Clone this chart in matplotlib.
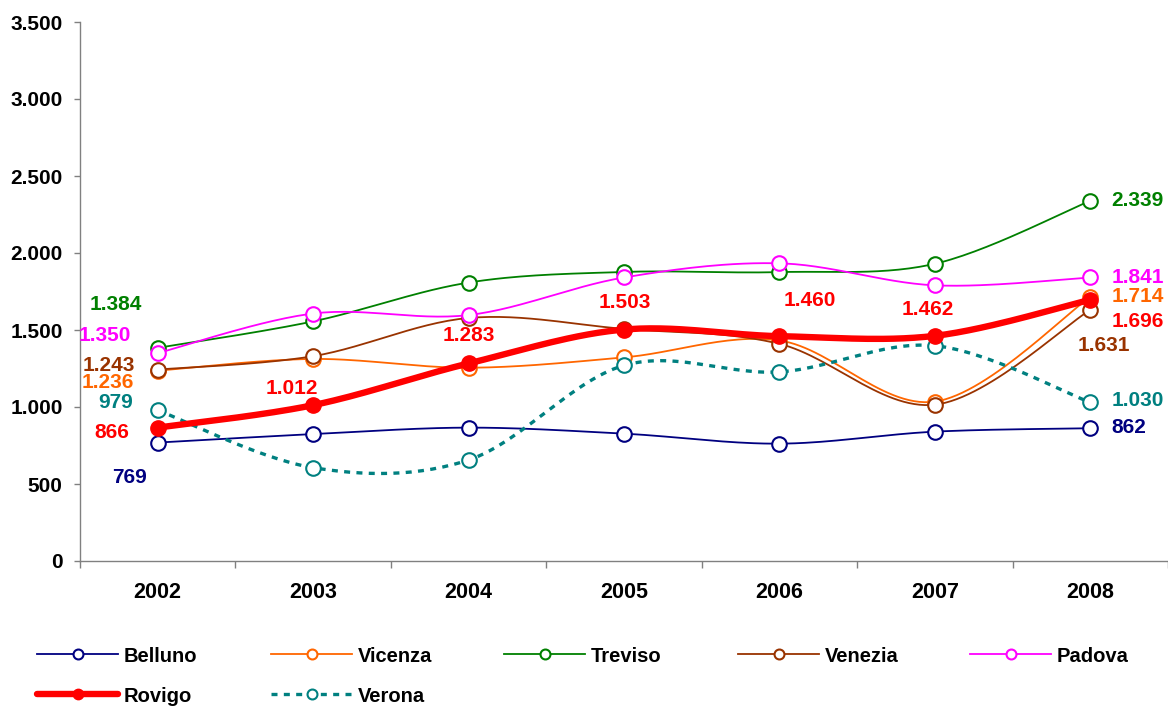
import numpy as np
import matplotlib
matplotlib.use("Agg")
import matplotlib.pyplot as plt
from matplotlib.ticker import FuncFormatter, FixedLocator

plt.rcParams['font.family'] = ['Liberation Sans', 'DejaVu Sans']
plt.rcParams['font.weight'] = 'bold'

years = ['2002', '2003', '2004', '2005', '2006', '2007', '2008']

belluno = [769, 824, 866, 827, 762, 840, 862]
vicenza = [1236, 1312, 1255, 1322, 1432, 1035, 1714]
treviso = [1384, 1556, 1808, 1877, 1876, 1930, 2339]
venezia = [1243, 1330, 1578, 1507, 1410, 1015, 1631]
padova = [1350, 1607, 1597, 1841, 1933, 1790, 1841]
rovigo = [866, 1012, 1283, 1503, 1460, 1462, 1696]
verona = [979, 606, 656, 1270, 1228, 1398, 1030]

series_names = ['Belluno', 'Vicenza', 'Treviso', 'Venezia', 'Padova', 'Rovigo', 'Verona']
series_values = [belluno, vicenza, treviso, venezia, padova, rovigo, verona]
series_colors = ['#000080', '#FF6600', '#008000', '#993300', '#FF00FF', '#FF0000', '#008080']

y_ticks = [0, 500, 1000, 1500, 2000, 2500, 3000, 3500]


def fmt_it(v):
    return f"{int(round(v)):,}".replace(',', '.')


def smooth(xs, ys, n=30):
    """Catmull-Rom style Bezier smoothing through every point."""
    pts = np.column_stack([np.asarray(xs, float), np.asarray(ys, float)])
    m = len(pts)
    out = []
    t = np.linspace(0, 1, n, endpoint=False)[:, None]
    for i in range(m - 1):
        p0 = pts[i - 1] if i > 0 else pts[i]
        p1 = pts[i]
        p2 = pts[i + 1]
        p3 = pts[i + 2] if i + 2 < m else pts[i + 1]
        c1 = p1 + (p2 - p0) / 6.0
        c2 = p2 - (p3 - p1) / 6.0
        seg = ((1 - t) ** 3) * p1 + 3 * ((1 - t) ** 2) * t * c1 \
            + 3 * (1 - t) * t ** 2 * c2 + t ** 3 * p2
        out.append(seg)
    out.append(pts[-1][None, :])
    curve = np.vstack(out)
    marks = [i * n for i in range(m)]
    return curve[:, 0], curve[:, 1], marks


fig = plt.figure(figsize=(11.68, 7.06), dpi=100)
W, H = 1168, 706
ax = fig.add_axes([80 / W, 145 / H, (1168 - 80) / W, (561 - 22) / H])

x = np.arange(len(years))
handles = {}
for name, vals, col in zip(series_names, series_values, series_colors):
    sx, sy, marks = smooth(x, vals)
    if name == 'Rovigo':
        ln, = ax.plot(sx, sy, color=col, lw=4.6, marker='o', markevery=marks,
                      markersize=11, markerfacecolor=col, markeredgecolor=col,
                      label=name, zorder=5, solid_capstyle='round')
    elif name == 'Verona':
        ln, = ax.plot(sx, sy, color=col, lw=2.4, linestyle=(0, (1.8, 1.9)),
                      marker='o', markevery=marks, markersize=10.5,
                      markerfacecolor='white', markeredgecolor=col, markeredgewidth=1.5,
                      label=name, zorder=4)
    else:
        ln, = ax.plot(sx, sy, color=col, lw=1.3, marker='o', markevery=marks,
                      markersize=10.5, markerfacecolor='white', markeredgecolor=col,
                      markeredgewidth=1.5, label=name, zorder=3)
    handles[name] = ln

ax.set_xlim(-0.5, len(years) - 0.5)
ax.set_ylim(0, 3500)

for s in ['top', 'right']:
    ax.spines[s].set_visible(False)
for s in ['left', 'bottom']:
    ax.spines[s].set_color('#808080')
    ax.spines[s].set_linewidth(1.0)

ax.set_yticks(y_ticks)
ax.yaxis.set_major_formatter(FuncFormatter(lambda v, p: fmt_it(v)))
ax.tick_params(axis='y', direction='out', length=4.5, width=1, color='#808080',
               pad=8, labelsize=15)

ax.set_xticks(x)
ax.set_xticklabels(years)
ax.xaxis.set_minor_locator(FixedLocator(np.arange(-0.5, len(years), 1.0)))
ax.tick_params(axis='x', which='major', length=0, pad=15, labelsize=15.5)
ax.tick_params(axis='x', which='minor', direction='out', length=5, width=1, color='#808080')
for lab in ax.get_xticklabels() + ax.get_yticklabels():
    lab.set_fontweight('bold')

# data labels (offsets in pixels from the point)
label_offsets = {
    'Belluno': {0: (-28, -35, 'center'), 6: (21, 1, 'left')},
    'Vicenza': {0: (-50, -12, 'center'), 6: (21, 1, 'left')},
    'Treviso': {0: (-42, 43, 'center'), 6: (21, 0, 'left')},
    'Venezia': {0: (-49, 4, 'center'), 6: (-13, -36, 'left')},
    'Padova': {0: (-53, 18, 'center'), 6: (21, 0, 'left')},
    'Rovigo': {0: (-46, -5, 'center'), 1: (-21, 17, 'center'), 2: (0, 28, 'center'),
               3: (1, 27, 'center'), 4: (30, 36, 'center'), 5: (-7, 26, 'center'),
               6: (21, -22, 'left')},
    'Verona': {0: (-42, 8, 'center'), 6: (21, 2, 'left')},
}
for name, vals, col in zip(series_names, series_values, series_colors):
    for i, (dx, dy, ha) in label_offsets[name].items():
        ax.annotate(fmt_it(vals[i]), xy=(x[i], vals[i]), xytext=(dx, dy),
                    textcoords='offset pixels', ha=ha, va='center',
                    color=col, fontsize=15, fontweight='bold', zorder=10,
                    annotation_clip=False)

# legend: one entry per slot, laid out in two rows
legend_slots = {
    'Belluno': (37, 656), 'Vicenza': (271, 656), 'Treviso': (504, 656),
    'Venezia': (738, 656), 'Padova': (970, 656),
    'Rovigo': (37, 696), 'Verona': (271, 696),
}
leg_fs = 14.5
fs_px = leg_fs * 100 / 72
for name in series_names:
    lx, ly = legend_slots[name]
    fig.legend([handles[name]], [name], loc='center left',
               bbox_to_anchor=(lx / W, 1 - ly / H), frameon=False,
               handlelength=81 / fs_px, handletextpad=6 / fs_px,
               borderpad=0, borderaxespad=0, markerscale=0.68,
               prop={'weight': 'bold', 'size': leg_fs})

fig.savefig('out.png', dpi=100)
